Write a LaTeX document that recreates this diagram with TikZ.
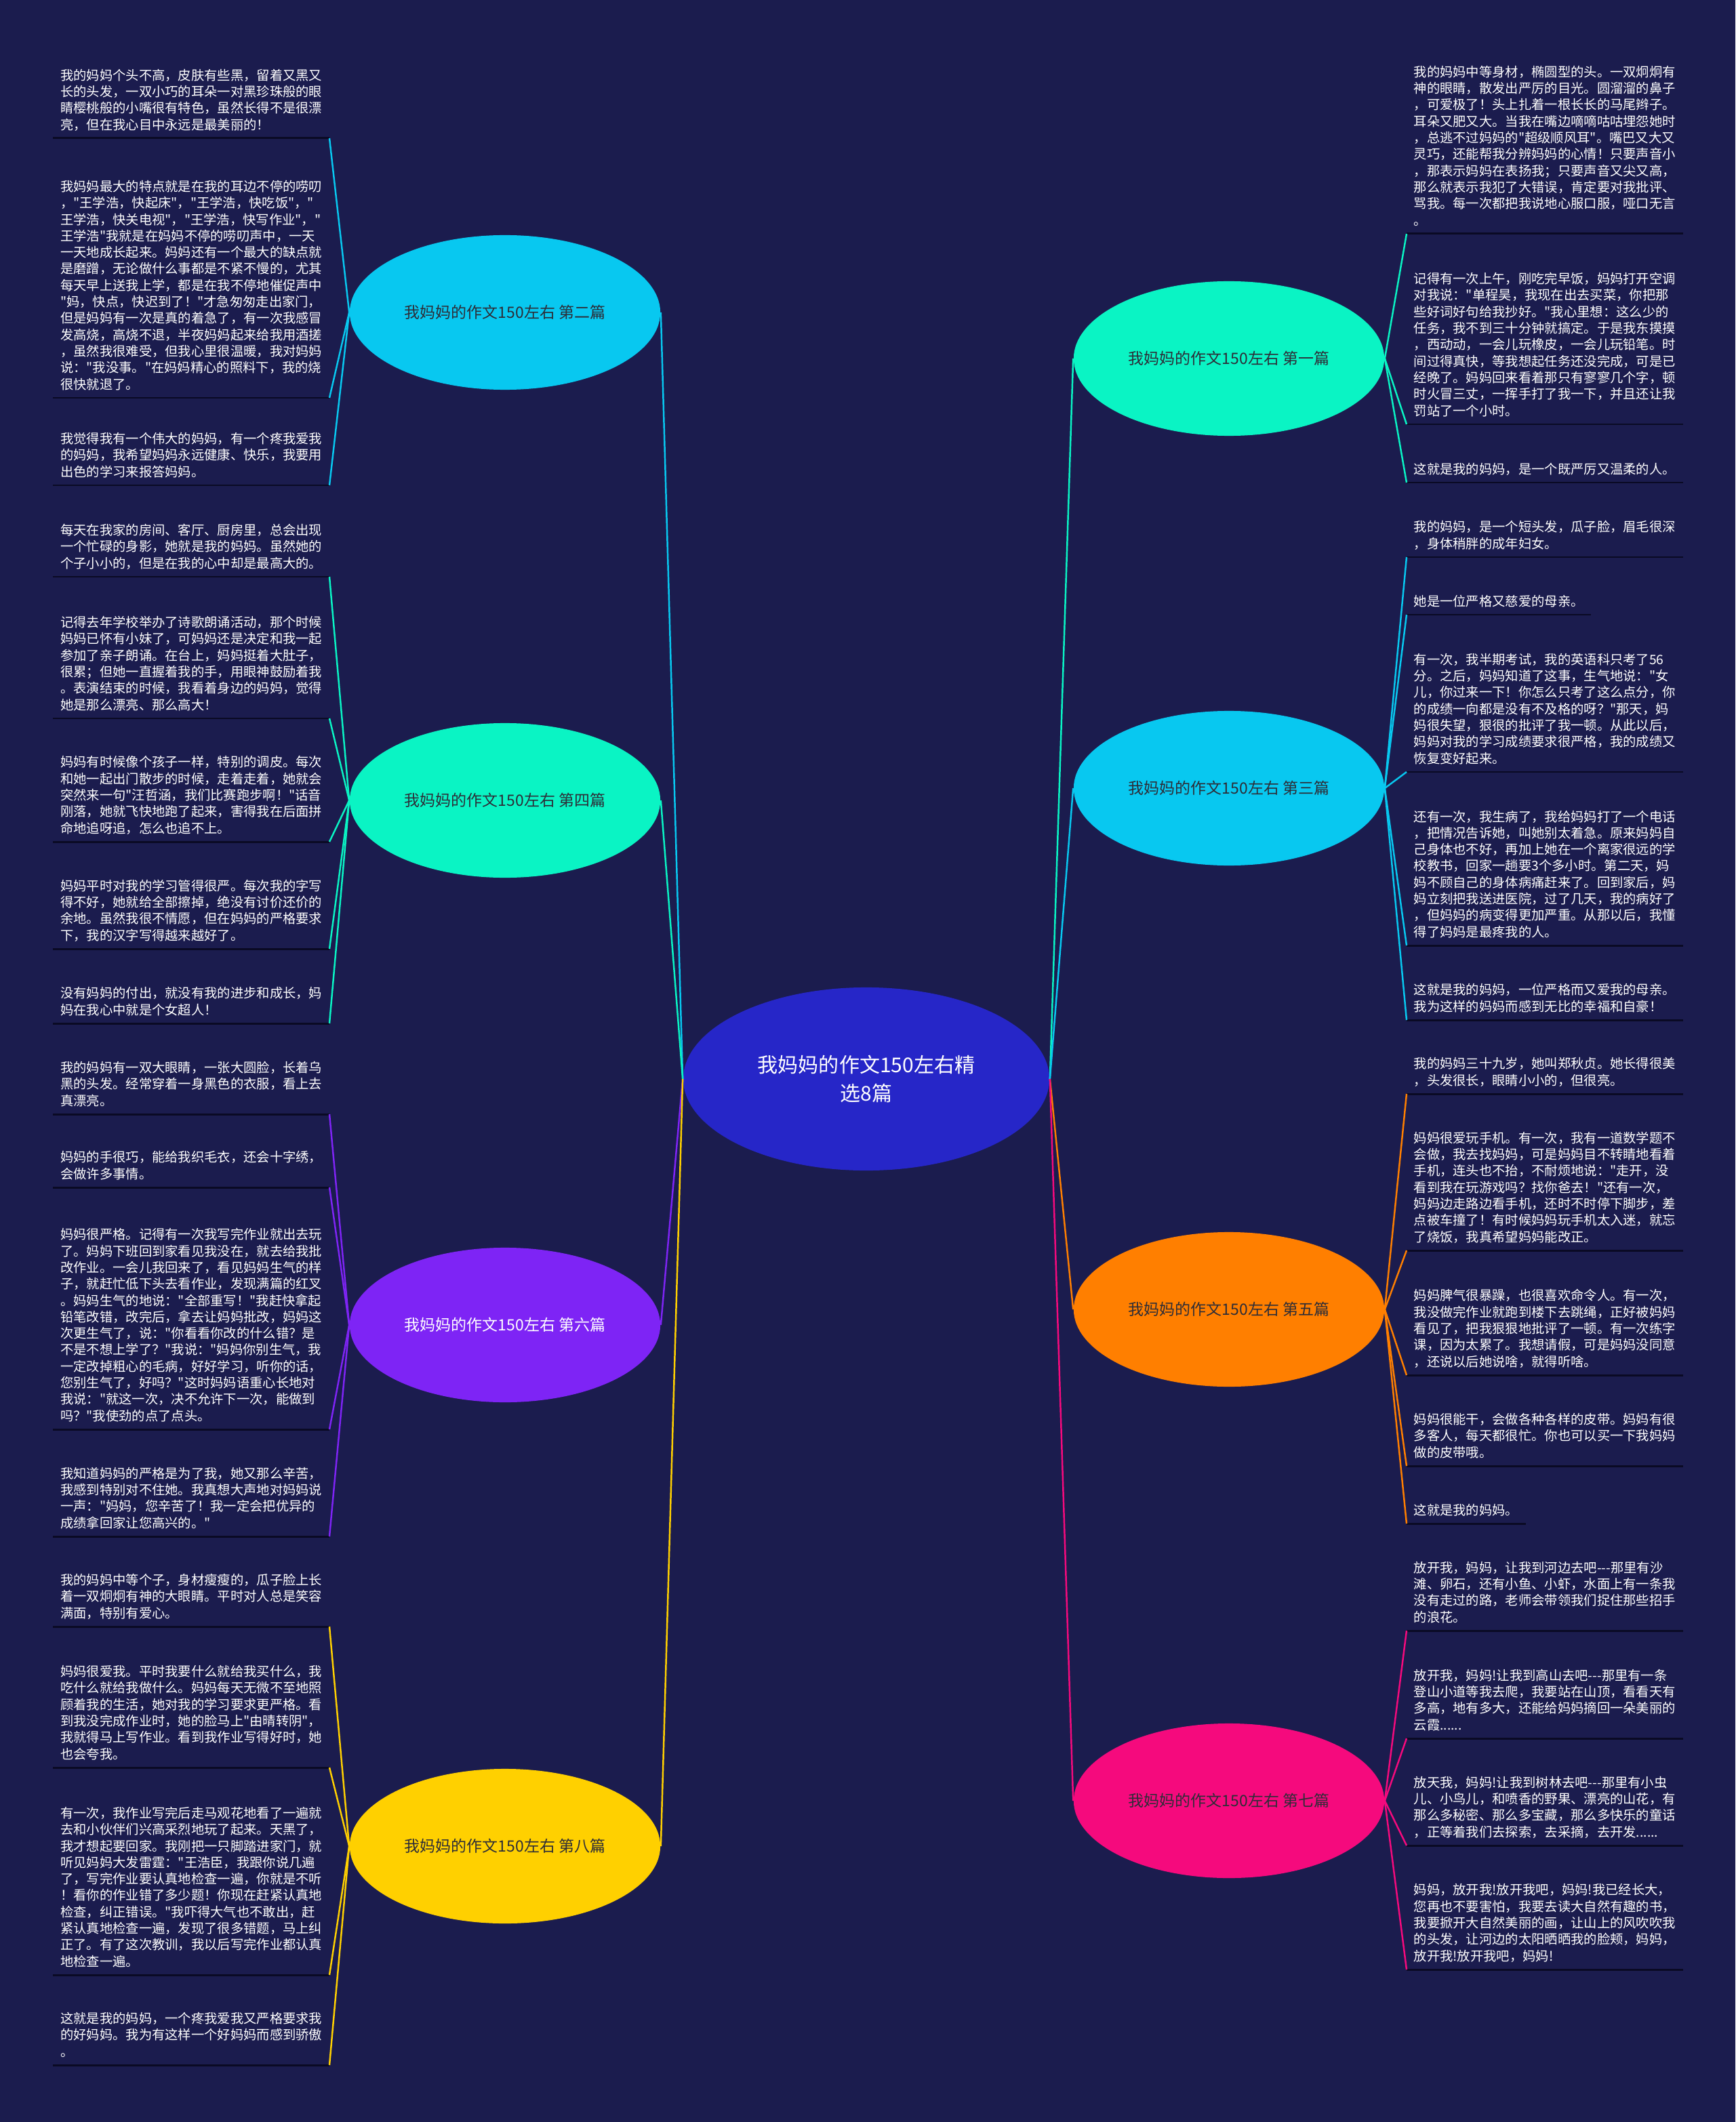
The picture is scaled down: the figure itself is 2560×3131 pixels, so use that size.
\documentclass[tikz,border=0pt]{standalone}
\usepackage{fontspec}
\setmainfont{Noto Sans CJK SC}[Ligatures=TeXOff]
\usetikzlibrary{shapes.geometric}

\definecolor{bgnavy}{RGB}{27,28,78}
\definecolor{ulblack}{RGB}{10,10,36}
\definecolor{rootblue}{RGB}{38,38,200}
\definecolor{labelgray}{RGB}{45,45,55}
\definecolor{ccSky}{RGB}{8,200,240}
\definecolor{ccMint}{RGB}{10,244,196}
\definecolor{ccPurple}{RGB}{126,36,245}
\definecolor{ccYellow}{RGB}{255,208,0}
\definecolor{ccOrange}{RGB}{255,127,0}
\definecolor{ccPink}{RGB}{245,10,125}

\newcommand\leaffont{\fontsize{5.49pt}{6.91pt}\selectfont}
\newcommand\branchfont{\fontsize{6.54pt}{8pt}\selectfont}
\newcommand\rootfont{\fontsize{8.54pt}{11.95pt}\selectfont}

\begin{document}
\begin{tikzpicture}[x=0.01cm,y=-0.01cm,
	uline/.style={draw=ulblack,line width=0.85pt},
	leaf/.style={font=\leaffont,text=white,align=left,inner xsep=0.1cm,inner ysep=0.122cm,text depth=0pt,
		append after command={(\tikzlastnode.south west) edge[uline] (\tikzlastnode.south east)}},
	leafL/.style={leaf,anchor=south east},
	leafR/.style={leaf,anchor=south west},
	branch/.style={ellipse,minimum width=4.58cm,minimum height=2.28cm,inner sep=0pt,font=\branchfont,text=labelgray},
	rootnode/.style={ellipse,fill=rootblue,minimum width=5.4cm,minimum height=2.7cm,inner sep=0pt,font=\rootfont,text=white,align=center},
	link/.style={line width=0.7pt}]
			\fill[bgnavy] (0,0) rectangle (2560,3131);
			\useasboundingbox (0,0) rectangle (2560,3131);

			\node[rootnode] (root) at (1278,1592) {我妈妈的作文150左右精\\选8篇};
			\node[branch,fill=ccSky] (p2) at (745,461) {我妈妈的作文150左右 第二篇};
			\node[branch,fill=ccMint] (p4) at (745,1181) {我妈妈的作文150左右 第四篇};
			\node[branch,fill=ccPurple,text=white] (p6) at (745,1955) {我妈妈的作文150左右 第六篇};
			\node[branch,fill=ccYellow] (p8) at (745,2724) {我妈妈的作文150左右 第八篇};
			\node[branch,fill=ccMint] (p1) at (1813,529) {我妈妈的作文150左右 第一篇};
			\node[branch,fill=ccSky] (p3) at (1813,1163) {我妈妈的作文150左右 第三篇};
			\node[branch,fill=ccOrange] (p5) at (1813,1932) {我妈妈的作文150左右 第五篇};
			\node[branch,fill=ccPink] (p7) at (1813,2657) {我妈妈的作文150左右 第七篇};

			\node[leafL] (p2a) at (486,204) {我的妈妈个头不高，皮肤有些黑，留着又黑又\\长的头发，一双小巧的耳朵一对黑珍珠般的眼\\睛樱桃般的小嘴很有特色，虽然长得不是很漂\\亮，但在我心目中永远是最美丽的！};
			\node[leafL] (p2b) at (486,587) {我妈妈最大的特点就是在我的耳边不停的唠叨\\，"王学浩，快起床"，"王学浩，快吃饭"，"\\王学浩，快关电视"，"王学浩，快写作业"，"\\王学浩"我就是在妈妈不停的唠叨声中，一天\\一天地成长起来。妈妈还有一个最大的缺点就\\是磨蹭，无论做什么事都是不紧不慢的，尤其\\每天早上送我上学，都是在我不停地催促声中\\"妈，快点，快迟到了！"才急匆匆走出家门，\\但是妈妈有一次是真的着急了，有一次我感冒\\发高烧，高烧不退，半夜妈妈起来给我用酒搓\\，虽然我很难受，但我心里很温暖，我对妈妈\\说："我没事。"在妈妈精心的照料下，我的烧\\很快就退了。};
			\node[leafL] (p2c) at (486,716) {我觉得我有一个伟大的妈妈，有一个疼我爱我\\的妈妈，我希望妈妈永远健康、快乐，我要用\\出色的学习来报答妈妈。};

			\node[leafL] (p4a) at (486,851) {每天在我家的房间、客厅、厨房里，总会出现\\一个忙碌的身影，她就是我的妈妈。虽然她的\\个子小小的，但是在我的心中却是最高大的。};
			\node[leafL] (p4b) at (486,1060) {记得去年学校举办了诗歌朗诵活动，那个时候\\妈妈已怀有小妹了，可妈妈还是决定和我一起\\参加了亲子朗诵。在台上，妈妈挺着大肚子，\\很累；但她一直握着我的手，用眼神鼓励着我\\。表演结束的时候，我看着身边的妈妈，觉得\\她是那么漂亮、那么高大！};
			\node[leafL] (p4c) at (486,1242) {妈妈有时候像个孩子一样，特别的调皮。每次\\和她一起出门散步的时候，走着走着，她就会\\突然来一句"汪哲涵，我们比赛跑步啊！"话音\\刚落，她就飞快地跑了起来，害得我在后面拼\\命地追呀追，怎么也追不上。};
			\node[leafL] (p4d) at (486,1400) {妈妈平时对我的学习管得很严。每次我的字写\\得不好，她就给全部擦掉，绝没有讨价还价的\\余地。虽然我很不情愿，但在妈妈的严格要求\\下，我的汉字写得越来越好了。};
			\node[leafL] (p4e) at (486,1510) {没有妈妈的付出，就没有我的进步和成长，妈\\妈在我心中就是个女超人！};

			\node[leafL] (p6a) at (486,1644) {我的妈妈有一双大眼睛，一张大圆脸，长着乌\\黑的头发。经常穿着一身黑色的衣服，看上去\\真漂亮。};
			\node[leafL] (p6b) at (486,1752) {妈妈的手很巧，能给我织毛衣，还会十字绣，\\会做许多事情。};
			\node[leafL] (p6c) at (486,2109) {妈妈很严格。记得有一次我写完作业就出去玩\\了。妈妈下班回到家看见我没在，就去给我批\\改作业。一会儿我回来了，看见妈妈生气的样\\子，就赶忙低下头去看作业，发现满篇的红叉\\。妈妈生气的地说："全部重写！"我赶快拿起\\铅笔改错，改完后，拿去让妈妈批改，妈妈这\\次更生气了，说："你看看你改的什么错？是\\不是不想上学了？"我说："妈妈你别生气，我\\一定改掉粗心的毛病，好好学习，听你的话，\\您别生气了，好吗？"这时妈妈语重心长地对\\我说："就这一次，决不允许下一次，能做到\\吗？"我使劲的点了点头。};
			\node[leafL] (p6d) at (486,2267) {我知道妈妈的严格是为了我，她又那么辛苦，\\我感到特别对不住她。我真想大声地对妈妈说\\一声："妈妈，您辛苦了！我一定会把优异的\\成绩拿回家让您高兴的。"};

			\node[leafL] (p8a) at (486,2400) {我的妈妈中等个子，身材瘦瘦的，瓜子脸上长\\着一双炯炯有神的大眼睛。平时对人总是笑容\\满面，特别有爱心。};
			\node[leafL] (p8b) at (486,2608) {妈妈很爱我。平时我要什么就给我买什么，我\\吃什么就给我做什么。妈妈每天无微不至地照\\顾着我的生活，她对我的学习要求更严格。看\\到我没完成作业时，她的脸马上"由晴转阴"，\\我就得马上写作业。看到我作业写得好时，她\\也会夸我。};
			\node[leafL] (p8c) at (486,2914) {有一次，我作业写完后走马观花地看了一遍就\\去和小伙伴们兴高采烈地玩了起来。天黑了，\\我才想起要回家。我刚把一只脚踏进家门，就\\听见妈妈大发雷霆："王浩臣，我跟你说几遍\\了，写完作业要认真地检查一遍，你就是不听\\！看你的作业错了多少题！你现在赶紧认真地\\检查，纠正错误。"我吓得大气也不敢出，赶\\紧认真地检查一遍，发现了很多错题，马上纠\\正了。有了这次教训，我以后写完作业都认真\\地检查一遍。};
			\node[leafL] (p8d) at (486,3047) {这就是我的妈妈，一个疼我爱我又严格要求我\\的好妈妈。我为有这样一个好妈妈而感到骄傲\\。};

			\node[leafR] (p1a) at (2075,345) {我的妈妈中等身材，椭圆型的头。一双炯炯有\\神的眼睛，散发出严厉的目光。圆溜溜的鼻子\\，可爱极了！头上扎着一根长长的马尾辫子。\\耳朵又肥又大。当我在嘴边嘀嘀咕咕埋怨她时\\，总逃不过妈妈的"超级顺风耳"。嘴巴又大又\\灵巧，还能帮我分辨妈妈的心情！只要声音小\\，那表示妈妈在表扬我；只要声音又尖又高，\\那么就表示我犯了大错误，肯定要对我批评、\\骂我。每一次都把我说地心服口服，哑口无言\\。};
			\node[leafR] (p1b) at (2075,626) {记得有一次上午，刚吃完早饭，妈妈打开空调\\对我说："单程昊，我现在出去买菜，你把那\\些好词好句给我抄好。"我心里想：这么少的\\任务，我不到三十分钟就搞定。于是我东摸摸\\，西动动，一会儿玩橡皮，一会儿玩铅笔。时\\间过得真快，等我想起任务还没完成，可是已\\经晚了。妈妈回来看着那只有寥寥几个字，顿\\时火冒三丈，一挥手打了我一下，并且还让我\\罚站了一个小时。};
			\node[leafR] (p1c) at (2075,712) {这就是我的妈妈，是一个既严厉又温柔的人。};

			\node[leafR] (p3a) at (2075,822) {我的妈妈，是一个短头发，瓜子脸，眉毛很深\\，身体稍胖的成年妇女。};
			\node[leafR] (p3b) at (2075,907) {她是一位严格又慈爱的母亲。};
			\node[leafR] (p3c) at (2075,1139) {有一次，我半期考试，我的英语科只考了56\\分。之后，妈妈知道了这事，生气地说："女\\儿，你过来一下！你怎么只考了这么点分，你\\的成绩一向都是没有不及格的呀？"那天，妈\\妈很失望，狠很的批评了我一顿。从此以后，\\妈妈对我的学习成绩要求很严格，我的成绩又\\恢复变好起来。};
			\node[leafR] (p3d) at (2075,1395) {还有一次，我生病了，我给妈妈打了一个电话\\，把情况告诉她，叫她别太着急。原来妈妈自\\己身体也不好，再加上她在一个离家很远的学\\校教书，回家一趟要3个多小时。第二天，妈\\妈不顾自己的身体病痛赶来了。回到家后，妈\\妈立刻把我送进医院，过了几天，我的病好了\\，但妈妈的病变得更加严重。从那以后，我懂\\得了妈妈是最疼我的人。};
			\node[leafR] (p3e) at (2075,1505) {这就是我的妈妈，一位严格而又爱我的母亲。\\我为这样的妈妈而感到无比的幸福和自豪！};

			\node[leafR] (p5a) at (2075,1614) {我的妈妈三十九岁，她叫郑秋贞。她长得很美\\，头发很长，眼睛小小的，但很亮。};
			\node[leafR] (p5b) at (2075,1845) {妈妈很爱玩手机。有一次，我有一道数学题不\\会做，我去找妈妈，可是妈妈目不转睛地看着\\手机，连头也不抬，不耐烦地说："走开，没\\看到我在玩游戏吗？找你爸去！"还有一次，\\妈妈边走路边看手机，还时不时停下脚步，差\\点被车撞了！有时候妈妈玩手机太入迷，就忘\\了烧饭，我真希望妈妈能改正。};
			\node[leafR] (p5c) at (2075,2029) {妈妈脾气很暴躁，也很喜欢命令人。有一次，\\我没做完作业就跑到楼下去跳绳，正好被妈妈\\看见了，把我狠狠地批评了一顿。有一次练字\\课，因为太累了。我想请假，可是妈妈没同意\\，还说以后她说啥，就得听啥。};
			\node[leafR] (p5d) at (2075,2163) {妈妈很能干，会做各种各样的皮带。妈妈有很\\多客人，每天都很忙。你也可以买一下我妈妈\\做的皮带哦。};
			\node[leafR] (p5e) at (2075,2248) {这就是我的妈妈。};

			\node[leafR] (p7a) at (2075,2406) {放开我，妈妈，让我到河边去吧-{}-{}-那里有沙\\滩、卵石，还有小鱼、小虾，水面上有一条我\\没有走过的路，老师会带领我们捉住那些招手\\的浪花。};
			\node[leafR] (p7b) at (2075,2565) {放开我，妈妈!让我到高山去吧-{}-{}-那里有一条\\登山小道等我去爬，我要站在山顶，看看天有\\多高，地有多大，还能给妈妈摘回一朵美丽的\\云霞......};
			\node[leafR] (p7c) at (2075,2723) {放天我，妈妈!让我到树林去吧-{}-{}-那里有小虫\\儿、小鸟儿，和喷香的野果、漂亮的山花，有\\那么多秘密、那么多宝藏，那么多快乐的童话\\，正等着我们去探索，去采摘，去开发......};
			\node[leafR] (p7d) at (2075,2906) {妈妈，放开我!放开我吧，妈妈!我已经长大，\\您再也不要害怕，我要去读大自然有趣的书，\\我要掀开大自然美丽的画，让山上的风吹吹我\\的头发，让河边的太阳晒晒我的脸颊，妈妈，\\放开我!放开我吧，妈妈!};

			\draw[link,ccSky] (root.west) -- (p2.east);
			\draw[link,ccMint] (root.west) -- (p4.east);
			\draw[link,ccPurple] (root.west) -- (p6.east);
			\draw[link,ccYellow] (root.west) -- (p8.east);
			\draw[link,ccMint] (root.east) -- (p1.west);
			\draw[link,ccSky] (root.east) -- (p3.west);
			\draw[link,ccOrange] (root.east) -- (p5.west);
			\draw[link,ccPink] (root.east) -- (p7.west);

			\draw[link,ccSky] (p2.west) -- (p2a.south east);
			\draw[link,ccSky] (p2.west) -- (p2b.south east);
			\draw[link,ccSky] (p2.west) -- (p2c.south east);
			\draw[link,ccMint] (p4.west) -- (p4a.south east);
			\draw[link,ccMint] (p4.west) -- (p4b.south east);
			\draw[link,ccMint] (p4.west) -- (p4c.south east);
			\draw[link,ccMint] (p4.west) -- (p4d.south east);
			\draw[link,ccMint] (p4.west) -- (p4e.south east);
			\draw[link,ccPurple] (p6.west) -- (p6a.south east);
			\draw[link,ccPurple] (p6.west) -- (p6b.south east);
			\draw[link,ccPurple] (p6.west) -- (p6c.south east);
			\draw[link,ccPurple] (p6.west) -- (p6d.south east);
			\draw[link,ccYellow] (p8.west) -- (p8a.south east);
			\draw[link,ccYellow] (p8.west) -- (p8b.south east);
			\draw[link,ccYellow] (p8.west) -- (p8c.south east);
			\draw[link,ccYellow] (p8.west) -- (p8d.south east);

			\draw[link,ccMint] (p1.east) -- (p1a.south west);
			\draw[link,ccMint] (p1.east) -- (p1b.south west);
			\draw[link,ccMint] (p1.east) -- (p1c.south west);
			\draw[link,ccSky] (p3.east) -- (p3a.south west);
			\draw[link,ccSky] (p3.east) -- (p3b.south west);
			\draw[link,ccSky] (p3.east) -- (p3c.south west);
			\draw[link,ccSky] (p3.east) -- (p3d.south west);
			\draw[link,ccSky] (p3.east) -- (p3e.south west);
			\draw[link,ccOrange] (p5.east) -- (p5a.south west);
			\draw[link,ccOrange] (p5.east) -- (p5b.south west);
			\draw[link,ccOrange] (p5.east) -- (p5c.south west);
			\draw[link,ccOrange] (p5.east) -- (p5d.south west);
			\draw[link,ccOrange] (p5.east) -- (p5e.south west);
			\draw[link,ccPink] (p7.east) -- (p7a.south west);
			\draw[link,ccPink] (p7.east) -- (p7b.south west);
			\draw[link,ccPink] (p7.east) -- (p7c.south west);
			\draw[link,ccPink] (p7.east) -- (p7d.south west);
		\end{tikzpicture}
\end{document}
